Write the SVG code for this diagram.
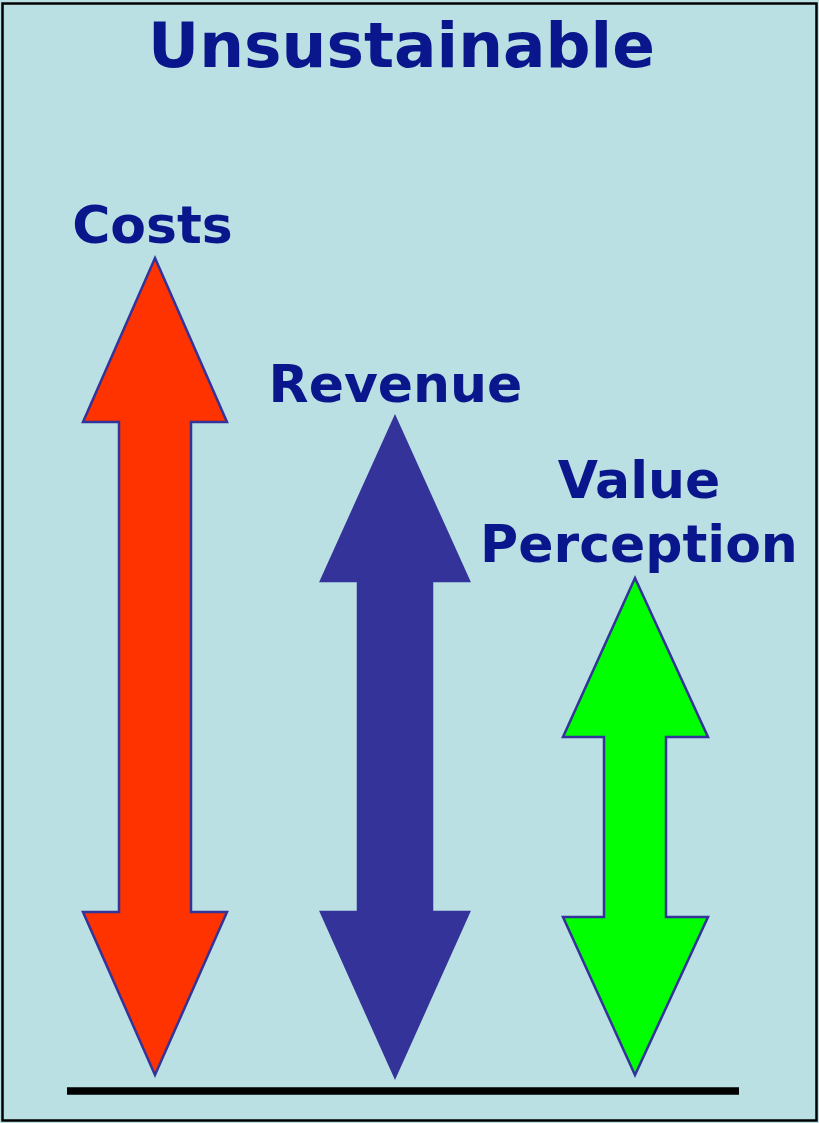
<svg xmlns="http://www.w3.org/2000/svg" width="819" height="1123" viewBox="0 0 819 1123">
<style>
.t{font-family:"DejaVu Sans",Verdana,sans-serif;font-weight:bold;fill:#0A168C;text-anchor:middle}
.arrow{stroke:#333399;stroke-width:2.5;stroke-linejoin:miter}
</style>
<rect x="0" y="0" width="819" height="1123" fill="#BAE0E3"/>
<rect x="2.5" y="3.5" width="814" height="1117" fill="none" stroke="#000" stroke-width="2.5"/>
<g id="title"><text class="t" x="401.5" y="67" font-size="63">Unsustainable</text></g>
<g id="costs">
<text class="t" x="152.5" y="243" font-size="52">Costs</text>
<polygon class="arrow" fill="#FF3300" points="155,258 227,422 191,422 191,912 227,912 155,1075 83,912 119,912 119,422 83,422"/>
</g>
<g id="revenue">
<text class="t" x="395.5" y="402" font-size="52">Revenue</text>
<polygon class="arrow" fill="#333399" points="395,417 469,581 432,581 432,912 469,912 395,1077 321,912 358,912 358,581 321,581"/>
</g>
<g id="value">
<text class="t" x="639" y="498" font-size="52">Value</text>
<text class="t" x="639" y="562" font-size="52">Perception</text>
<polygon class="arrow" fill="#00FF00" points="635,578 708,737 666,737 666,917 708,917 635,1075 563,917 604,917 604,737 563,737"/>
</g>
<g id="connectors">
<line x1="67" y1="1091" x2="739" y2="1091" stroke="#000" stroke-width="7.5"/>
</g>
</svg>
